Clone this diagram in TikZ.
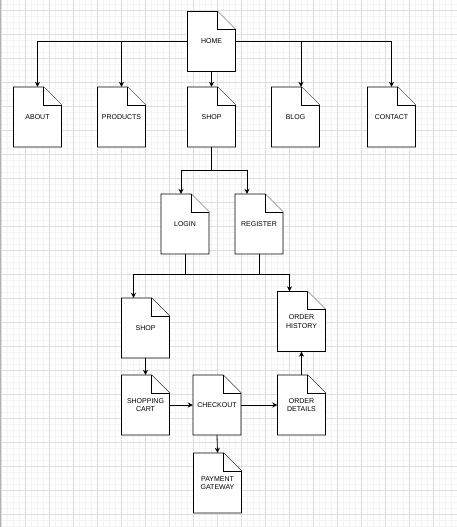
\documentclass[tikz,border=0pt]{standalone}
\usepackage{fontspec}
\setmainfont{Liberation Sans}
\usetikzlibrary{arrows.meta,calc}
\definecolor{GridClr}{rgb}{0.87,0.87,0.87}
\definecolor{SubGridClr}{rgb}{0.955,0.955,0.955}
\definecolor{EdgeClr}{rgb}{0.7,0.7,0.7}

% page with a folded corner: name, x, y, label
\newcommand\DocPage[4]{%
  \filldraw[page] ({#2-24},{#3-30}) -- ({#2+6},{#3-30}) -- ({#2+24},{#3-12})
    -- ({#2+24},{#3+30}) -- ({#2-24},{#3+30}) -- cycle;
  \draw[page] ({#2+6},{#3-30}) -- ({#2+6},{#3-12}) -- ({#2+24},{#3-12});
  \node[pagetext] (#1) at (#2,#3) {#4};}

\begin{document}
\begin{tikzpicture}[x=1pt,y=-1pt,
  page/.style={line width=0.8pt,draw=black,fill=white},
  pagetext/.style={minimum width=48pt,minimum height=60pt,inner sep=0pt,
    align=center,font=\fontsize{7}{8.3}\selectfont},
  wire/.style={line width=0.8pt},
  link/.style={line width=0.8pt,-{Stealth[length=5pt,width=5pt]}}]
\useasboundingbox (0,0) rectangle (457,527);

% grid
\foreach \gx in {1.5,7.5,...,457} \draw[SubGridClr,line width=0.5pt] (\gx,0) -- (\gx,527);
\foreach \gy in {4,10,...,527} \draw[SubGridClr,line width=0.5pt] (0,\gy) -- (457,\gy);
\foreach \gx in {1.5,25.5,...,457} \draw[GridClr,line width=0.7pt] (\gx,0) -- (\gx,527);
\foreach \gy in {10,34,...,527} \draw[GridClr,line width=0.7pt] (0,\gy) -- (457,\gy);
\draw[EdgeClr,line width=1pt] (0.5,0) -- (0.5,527);

% pages
\DocPage{home}{211.5}{41.5}{HOME}
\DocPage{about}{37.5}{117}{ABOUT}
\DocPage{products}{121.5}{117}{PRODUCTS}
\DocPage{shop}{211.5}{117}{SHOP}
\DocPage{blog}{295.5}{117}{BLOG}
\DocPage{contact}{391.5}{117}{CONTACT}
\DocPage{login}{185}{224}{LOGIN}
\DocPage{register}{259}{224}{REGISTER}
\DocPage{store}{145.5}{328}{SHOP}
\DocPage{history}{301.5}{321.5}{ORDER\\HISTORY}
\DocPage{cart}{145.5}{405}{SHOPPING\\CART}
\DocPage{checkout}{217}{405}{CHECKOUT}
\DocPage{details}{301.5}{405}{ORDER\\DETAILS}
\DocPage{payment}{217.5}{483}{PAYMENT\\GATEWAY}

\coordinate (split) at (211.5,170);
\coordinate (merge) at (0,274);

% links
\draw[link] (home.west) -| (about.north);
\draw[link] (home.west) -| (products.north);
\draw[link] (home.south) -- (shop.north);
\draw[link] (home.east) -| ([xshift=5.5]blog.north);
\draw[link] (home.east) -| (contact.north);

\draw[wire] (shop.south) -- (split);
\draw[link] (split) -| ([xshift=-4]login.north);
\draw[link] (split) -| ([xshift=-12]register.north);

\draw[wire] (login.south) -- (login.south |- merge);
\draw[wire] (register.south) -- (register.south |- merge);
\draw[link] ([xshift=-12]history.north |- merge) -- ([xshift=-12]history.north);
\draw[link] ([xshift=-12]history.north |- merge) -| ([xshift=-12]store.north);

\draw[link] (store.south) -- (cart.north);
\draw[link] (cart.east) -- (checkout.west);
\draw[link] (checkout.east) -- (details.west);
\draw[link] (checkout.south) -- (payment.north);
\draw[link] (details.north) -- (history.south);

\end{tikzpicture}
\end{document}
